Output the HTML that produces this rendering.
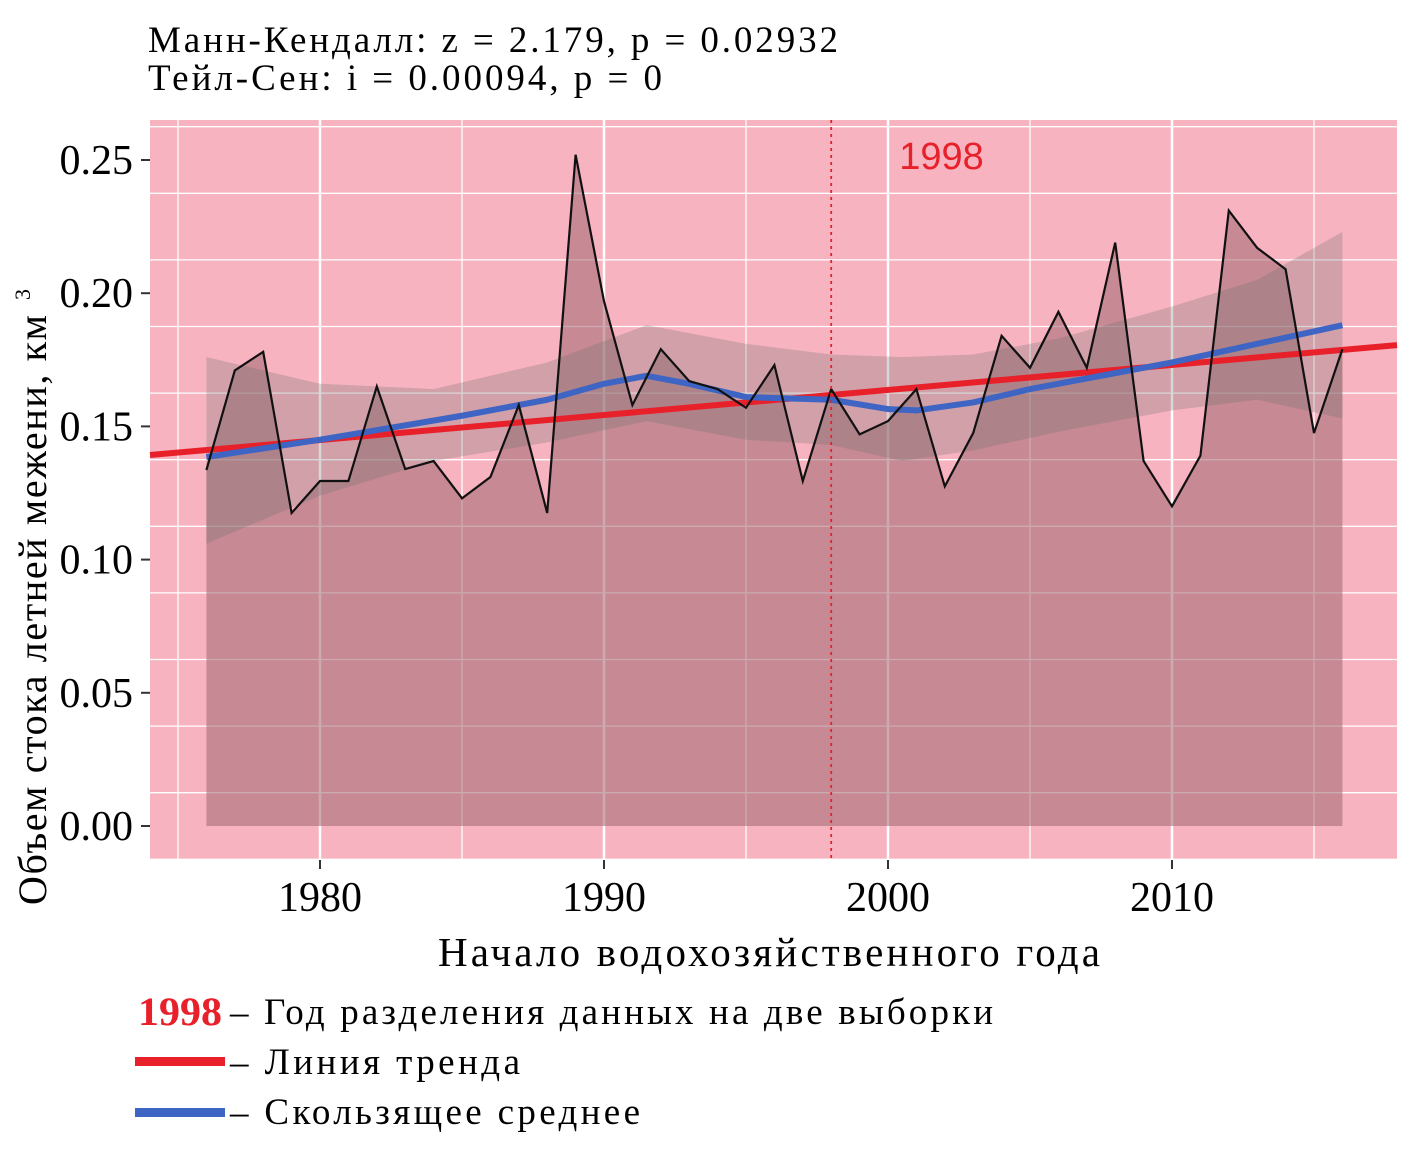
<!DOCTYPE html>
<html><head><meta charset="utf-8">
<style>
body{margin:0;background:#fff;}
svg text{font-family:"Liberation Serif",serif;}
</style></head>
<body>
<svg id="chart" width="1417" height="1160" xmlns="http://www.w3.org/2000/svg">
<text x="148" y="52" font-size="37" textLength="690" lengthAdjust="spacing">Манн-Кендалл: z = 2.179, p = 0.02932</text>
<text x="148" y="90" font-size="37" textLength="514" lengthAdjust="spacing">Тейл-Сен: i = 0.00094, p = 0</text>
<rect x="150" y="120" width="1247" height="740" fill="#f7b3c0"/>
<g id="grid"></g>
<g id="marks"></g>
<g id="axes"></g>
<text x="438" y="966" font-size="41" textLength="662" lengthAdjust="spacing">Начало водохозяйственного года</text>
<text transform="translate(46,905) rotate(-90)" font-size="40" textLength="590" lengthAdjust="spacing">Объем стока летней межени, км</text>
<text transform="translate(30,300) rotate(-90)" font-size="22">3</text>
<g>
<text x="138" y="1025" font-size="40" font-weight="bold" fill="#e8202a" textLength="84" lengthAdjust="spacingAndGlyphs">1998</text>
<text x="230" y="1024" font-size="37" textLength="763" lengthAdjust="spacing">– Год разделения данных на две выборки</text>
<rect x="135" y="1057" width="90" height="9" fill="#e8202a"/>
<text x="230" y="1074" font-size="37" textLength="290" lengthAdjust="spacing">– Линия тренда</text>
<rect x="135" y="1108" width="90" height="9" fill="#3e64c4"/>
<text x="230" y="1124" font-size="37" textLength="410" lengthAdjust="spacing">– Скользящее среднее</text>
</g>
</svg>
<script>
const years = [1976,1977,1978,1979,1980,1981,1982,1983,1984,1985,1986,1987,1988,1989,1990,1991,1992,1993,1994,1995,1996,1997,1998,1999,2000,2001,2002,2003,2004,2005,2006,2007,2008,2009,2010,2011,2012,2013,2014,2015,2016];
const values = [0.1336,0.171,0.178,0.1175,0.1295,0.1295,0.165,0.134,0.137,0.123,0.131,0.158,0.1175,0.252,0.197,0.158,0.179,0.167,0.164,0.157,0.173,0.1295,0.164,0.147,0.152,0.164,0.1275,0.1475,0.184,0.172,0.193,0.172,0.219,0.137,0.120,0.139,0.231,0.217,0.209,0.1475,0.179];
const smoothYears = [1976,1980,1985,1988,1990,1991.5,1993,1995,1998,2000,2001,2003,2005,2008,2010,2013,2016];
const smoothValues = [0.1385,0.145,0.154,0.160,0.166,0.169,0.166,0.161,0.160,0.1565,0.156,0.159,0.164,0.170,0.174,0.181,0.188];
const bandYears = [1976,1980,1984,1988,1991.5,1995,1998,2000.5,2003,2006,2010,2013,2016];
const bandUpper = [0.176,0.166,0.164,0.174,0.188,0.181,0.177,0.176,0.177,0.183,0.195,0.205,0.223];
const bandLower = [0.106,0.124,0.137,0.144,0.152,0.145,0.143,0.137,0.141,0.148,0.156,0.160,0.153];
const trendStart = 0.1398, trendSlope = 0.00094, trendYear0 = 1974.6;
const yTicks = [0,0.05,0.10,0.15,0.20,0.25];
const yTickLabels = ["0.00","0.05","0.10","0.15","0.20","0.25"];
const xTicks = [1980,1990,2000,2010];
const splitYear = 1998;

const X0=150,X1=1397,Y0=120,Y1=860;
const xs = y => 320 + (y-1980)*28.4;
const ys = v => 826 - v*2664;
const yrMin = (X0-320)/28.4+1980, yrMax=(X1-320)/28.4+1980;
const NS="http://www.w3.org/2000/svg";
function mk(tag, parent, attrs){const e=document.createElementNS(NS,tag);for(const k in attrs)e.setAttribute(k,attrs[k]);parent.appendChild(e);return e;}
const grid=document.getElementById('grid'), marks=document.getElementById('marks'), axes=document.getElementById('axes');

for(let v=-0.0125; v<0.27; v+=0.025){const yy=ys(v); if(yy<Y0||yy>Y1) continue;
  const major=Math.abs(Math.round(v/0.05)*0.05-v)<1e-6;
  const l=mk('line',grid,{x1:X0,x2:X1,y1:yy,y2:yy,stroke:'#fff','stroke-width':major?2.5:1.3});
  
  }
for(let yr=1975; yr<=2015; yr+=5){const xx=xs(yr);
  const major=yr%10===0;
  const l=mk('line',grid,{x1:xx,x2:xx,y1:Y0,y2:Y1,stroke:'#fff','stroke-width':major?2.5:1.3});
  
  }

let d='M'+xs(years[0])+','+ys(0);
years.forEach((y,i)=>{d+=' L'+xs(y)+','+ys(values[i]);});
d+=' L'+xs(years[years.length-1])+','+ys(0)+' Z';
let a=mk('path',marks,{d:d,fill:'#a06670','fill-opacity':'0.55'});



let bd='';
bandYears.forEach((y,i)=>{bd+=(i?' L':'M')+xs(y)+','+ys(bandUpper[i]);});
for(let i=bandYears.length-1;i>=0;i--) bd+=' L'+xs(bandYears[i])+','+ys(bandLower[i]);
bd+=' Z';
let b=mk('path',marks,{d:bd,fill:'#707070','fill-opacity':'0.28'});



let t=mk('line',marks,{x1:X0,y1:ys(trendStart+(yrMin-trendYear0)*trendSlope),x2:X1,y2:ys(trendStart+(yrMax-trendYear0)*trendSlope),stroke:'#e8202a','stroke-width':6});



let sd='';
smoothYears.forEach((y,i)=>{sd+=(i?' L':'M')+xs(y)+','+ys(smoothValues[i]);});
let s=mk('path',marks,{d:sd,fill:'none',stroke:'#3e64c4','stroke-width':6,'stroke-linejoin':'round'});



let ld='';
years.forEach((y,i)=>{ld+=(i?' L':'M')+xs(y)+','+ys(values[i]);});
let dl=mk('path',marks,{d:ld,fill:'none',stroke:'#111','stroke-width':2.2});



let sp=mk('line',marks,{x1:xs(splitYear),x2:xs(splitYear),y1:Y0,y2:Y1,stroke:'#e8202a','stroke-width':1.8,'stroke-dasharray':'3,4'});


let st=mk('text',marks,{x:xs(splitYear)+68,y:169,'font-size':38,fill:'#e8202a','text-anchor':'start',style:'font-family:"Liberation Sans",sans-serif'});
st.textContent=String(splitYear);



yTicks.forEach((v,i)=>{const yy=ys(v);
  const tk=mk('line',axes,{x1:X0-9,x2:X0,y1:yy,y2:yy,stroke:'#333','stroke-width':2});
  
  
  const tx=mk('text',axes,{x:133,y:yy+14,'font-size':42,'text-anchor':'end'});
  tx.textContent=yTickLabels[i];
  
  });
xTicks.forEach(yr=>{const xx=xs(yr);
  const tk=mk('line',axes,{x1:xx,x2:xx,y1:Y1,y2:Y1+9,stroke:'#333','stroke-width':2});
  
  
  const tx=mk('text',axes,{x:xx,y:911,'font-size':42,'text-anchor':'middle'});
  tx.textContent=String(yr);
  
  });
</script>
</body></html>
